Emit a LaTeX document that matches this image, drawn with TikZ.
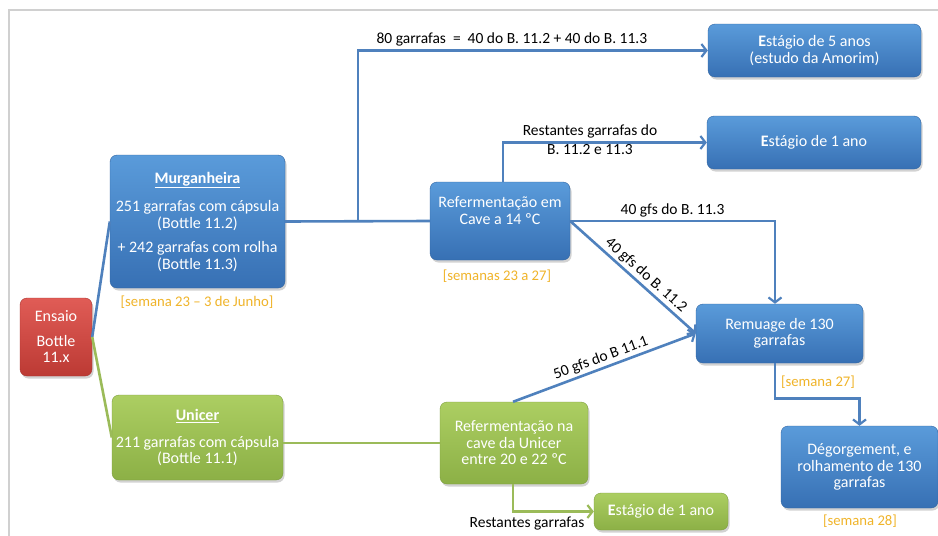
\documentclass[tikz,border=0pt]{standalone}
\usepackage{fontspec}
\setmainfont{Carlito}
\usetikzlibrary{arrows.meta,shadows}
\definecolor{lnblue}{RGB}{79,129,189}
\definecolor{lngreen}{RGB}{155,187,89}
\definecolor{btop}{RGB}{90,155,218}
\definecolor{bbot}{RGB}{55,112,180}
\definecolor{gtop}{RGB}{172,206,98}
\definecolor{gbot}{RGB}{140,176,70}
\definecolor{rtop}{RGB}{224,92,86}
\definecolor{rbot}{RGB}{188,58,52}
\definecolor{gold}{RGB}{240,180,42}
\definecolor{frame}{RGB}{208,208,208}
\begin{document}
\begin{tikzpicture}[x=1pt,y=-1pt,
  boxbase/.style={rounded corners=7pt, inner sep=0pt, align=center, text=white,
    font=\fontsize{16}{16.5}\selectfont,
    drop shadow={shadow xshift=1.5pt, shadow yshift=-2.5pt, opacity=0.35}},
  bbox/.style={boxbase, top color=btop, bottom color=bbot, draw=bbot!90!black, line width=0.4pt},
  gbox/.style={boxbase, top color=gtop, bottom color=gbot, draw=gbot!90!black, line width=0.4pt},
  rbox/.style={boxbase, top color=rtop, bottom color=rbot, draw=rbot!90!black, line width=0.4pt},
  btext/.style={font=\fontsize{16}{17}\selectfont, text=white, align=center, inner sep=0pt},
  lbl/.style={font=\fontsize{15.5}{18}\selectfont, text=black, align=center, inner sep=1pt},
  wk/.style={font=\fontsize{14.7}{16}\selectfont, text=gold, inner sep=0pt},
  bl/.style={draw=lnblue, line width=2.6pt},
  gl/.style={draw=lngreen, line width=2.6pt},
  arr/.style={-{Straight Barb[length=5pt,width=13pt,line width=2.2pt]}}
]
\useasboundingbox (0,0) rectangle (938,536);
\fill[white] (0,0) rectangle (938,536);
% frame
\draw[frame, line width=2pt] (9,536) -- (9,10) -- (938,10);

% nodes
\node[rbox, minimum width=72pt, minimum height=78pt] (ens) at (56,337)
  {Ensaio\\[8pt]Bottle\\11.x};
\node[bbox, minimum width=175pt, minimum height=133pt] (murg) at (197.5,221.5)
  {\textbf{\underline{Murganheira}}\\[12pt]251 garrafas com cápsula\\(Bottle 11.2)\\[8pt]+ 242 garrafas com rolha\\(Bottle 11.3)};
\node[gbox, minimum width=171pt, minimum height=85pt] (unic) at (197.5,437.5)
  {\textbf{\underline{Unicer}}\\[10pt]211 garrafas com cápsula\\(Bottle 11.1)};
\node[bbox, minimum width=140pt, minimum height=78pt] (ref1) at (500,221) {};
\node[btext] (ref1t) at (500,211) {Refermentação em\\Cave a 14 ºC};
\node[bbox, minimum width=213pt, minimum height=53pt] (e5) at (814.5,50.5)
  {\textbf{E}stágio de 5 anos\\(estudo da Amorim)};
\node[bbox, minimum width=214pt, minimum height=53pt] (e1) at (814,142.5)
  {\textbf{E}stágio de 1 ano};
\node[bbox, minimum width=167pt, minimum height=59pt] (rem) at (779.5,333.5)
  {Remuage de 130\\garrafas};
\node[bbox, minimum width=157pt, minimum height=82pt] (deg) at (859.5,467)
  {Dégorgement, e\\rolhamento de 130\\garrafas};
\node[gbox, minimum width=148pt, minimum height=82pt] (ref2) at (514,443)
  {Refermentação na\\cave da Unicer\\entre 20 e 22 ºC};
\node[gbox, minimum width=134pt, minimum height=37pt] (e1g) at (661,511.5)
  {\textbf{E}stágio de 1 ano};

% week labels
\node[wk] (w1) at (197,302) {[semana 23 -- 3 de Junho]};
\node[wk] (w2) at (497,276) {[semanas 23 a 27]};
\node[wk] (w3) at (818,382) {[semana 27]};
\node[wk] (w4) at (860,521) {[semana 28]};

% connectors
\draw[bl] (ens.east) -- (murg.west);
\draw[gl] (ens.east) -- (unic.west);
\draw[bl] (murg.east) -- (ref1.west);
\coordinate (b1) at (358,221);
\draw[bl,arr] (b1) |- node[lbl, pos=0.72, above=2pt] {80 garrafas~ =~ 40 do B. 11.2 + 40 do B. 11.3} (e5.west);
\draw[bl,arr] ([xshift=3pt]ref1.north) |- (e1.west);
\node[lbl] (rl1) at (590,131) {Restantes garrafas do};
\node[lbl] (rl2) at (590,150) {B. 11.2 e 11.3};
\draw[bl,arr] (ref1.east) -| node[lbl, pos=0.25, above=2pt] {40 gfs do B. 11.3} ([xshift=-4.5pt]rem.north);
\draw[bl,arr] (ref1.east) -- node[lbl, sloped, pos=0.55, above=1pt] {40 gfs do B. 11.2} (rem.west);
\draw[bl,arr] ([xshift=-1pt]ref2.north) -- node[lbl, sloped, pos=0.5, above=1pt] {50 gfs do B 11.1} (rem.west);
\draw[gl] (unic.east |- ref2.west) -- (ref2.west);
\draw[gl,arr] ([xshift=-1pt]ref2.south) |- (e1g.west);
\node[lbl] (rg) at (527,524) {Restantes garrafas};
\draw[bl,arr] ([xshift=-4.5pt]rem.south) -- ++(0,35) -| (deg.north);
\end{tikzpicture}
\end{document}
